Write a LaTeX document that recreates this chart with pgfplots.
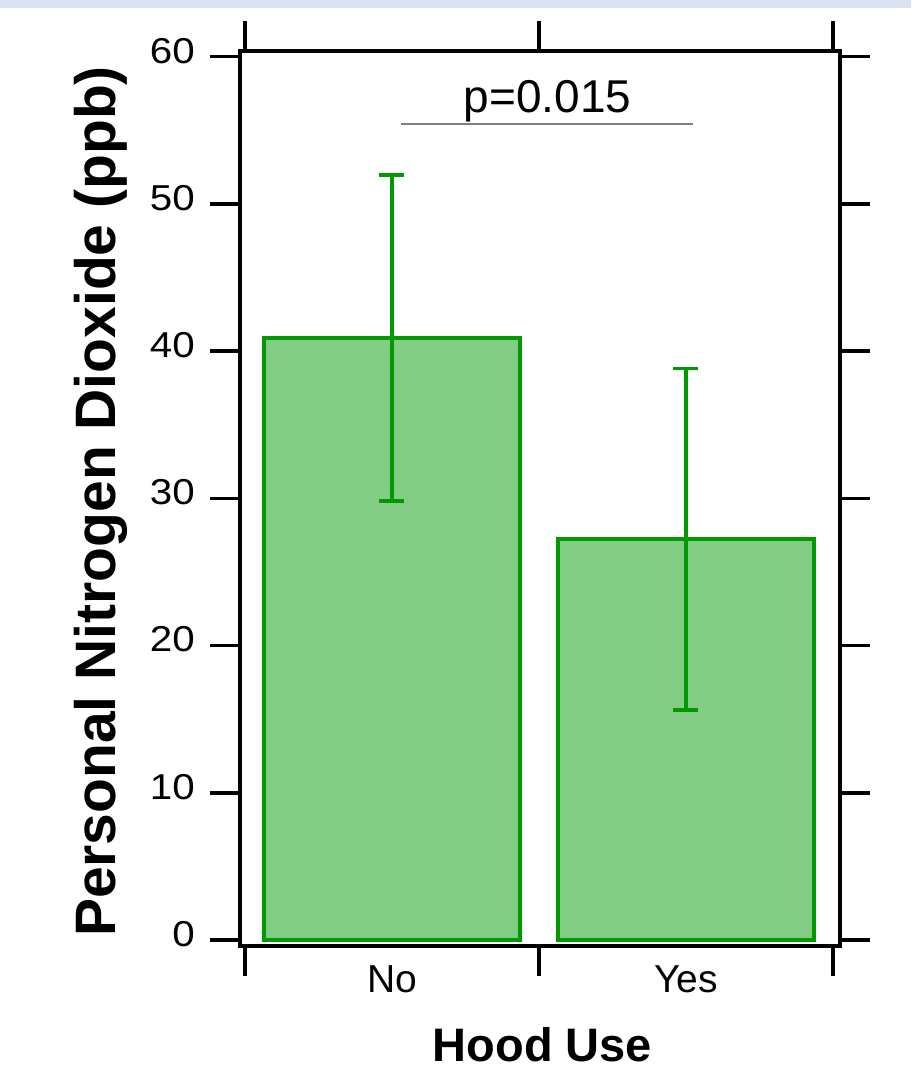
\documentclass[border=0pt]{standalone}
\usepackage{pgfplots}
\pgfplotsset{compat=1.18}
\usepackage{fontspec}
\setmainfont{Liberation Sans}
\newfontfamily\tickfont[FakeStretch=1.12]{Liberation Sans}
\definecolor{barfill}{RGB}{131,204,131}
\definecolor{baredge}{RGB}{0,153,0}
\definecolor{band}{RGB}{218,227,243}
\definecolor{pline}{RGB}{128,128,128}
\begin{document}
\begin{tikzpicture}
\useasboundingbox (0pt,0pt) rectangle (911pt,1070pt);
\fill[band] (0pt,1061.5pt) rectangle (911pt,1070pt);
\begin{axis}[
  at={(240pt,124pt)}, anchor=south west,
  scale only axis, width=600pt, height=895pt,
  xmin=-0.517, xmax=1.524, ymin=-0.41, ymax=60.39,
  clip=false,
  axis line style={line width=3.5pt, black},
  every tick/.append style={line width=3.5pt, black},
  tick align=outside, major tick length=30pt,
  /pgf/number format/assume math mode=true,
  ytick={0,10,20,30,40,50,60},
  yticklabel pos=left,
  yticklabel style={font=\tickfont\fontsize{36}{40}\selectfont, inner sep=0pt, xshift=-15pt, yshift=6pt},
  xtick={-0.5,0.5,1.5}, xticklabels={},
  extra x ticks={0,1}, extra x tick labels={No,Yes},
  extra x tick style={major tick length=0pt, tick label style={font=\fontsize{39}{44}\selectfont, inner sep=0pt, yshift=-19pt}},
  xlabel={Hood Use},
  xlabel style={font=\bfseries\fontsize{47}{50}\selectfont, at={(axis description cs:0.504,-0.129)}, anchor=base, inner sep=0pt},
  ylabel={Personal Nitrogen Dioxide (ppb)},
  ylabel style={font=\bfseries\fontsize{57}{60}\selectfont, at={(axis description cs:-0.2083,0.4966)}, anchor=base, inner sep=0pt},
]
\addplot[ybar, bar width=256pt, fill=barfill, draw=baredge, line width=3.5pt,
  error bars/.cd, y dir=both, y explicit,
  error bar style={line width=3.5pt, baredge},
  error mark options={rotate=90, baredge, line width=3.5pt, mark size=12.5pt}]
  coordinates {(0,40.9) +- (0,11.07) (1,27.23) +- (0,11.6)};
\draw[pline, line width=1.5pt] (axis cs:0.031,55.43) -- (axis cs:1.024,55.43);
\node[font=\fontsize{46}{50}\selectfont, anchor=base, inner sep=0pt] at (axis cs:0.529,56.18) {p=0.015};
\end{axis}
\end{tikzpicture}
\end{document}
